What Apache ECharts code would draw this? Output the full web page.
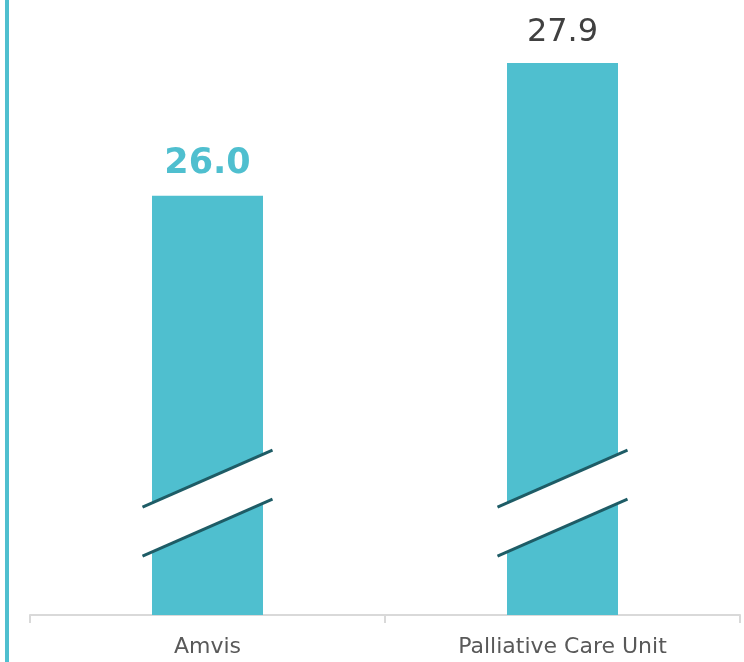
<!DOCTYPE html>
<html>
<head>
<meta charset="utf-8">
<script src="https://cdn.jsdelivr.net/npm/echarts@6/dist/echarts.min.js"></script>
<style>
  html, body { margin: 0; padding: 0; background: #fff; }
  #main { width: 744px; height: 662px; }
</style>
</head>
<body>
<div id="main"></div>
<script>
var categories = ['Amvis', 'Palliative Care Unit'];
var values = [26.0, 27.9];
// where the axis break mark sits on each bar
var breakAt = [21.6, 21.6];

var teal = '#4FBFCF';
var font = 'DejaVu Sans, Verdana, sans-serif';

var chart = echarts.init(document.getElementById('main'));

var option = {
  animation: false,
  grid: { left: 30, right: 4, top: 0, bottom: 47 },
  graphic: [{
    type: 'rect',
    left: 5,
    top: 0,
    shape: { width: 4, height: 662 },
    style: { fill: teal }
  }],
  xAxis: {
    type: 'category',
    data: categories,
    axisLine: { lineStyle: { color: '#d9d9d9', width: 2 } },
    axisTick: { show: true, length: 8, lineStyle: { color: '#d9d9d9', width: 2 } },
    axisLabel: { color: '#595959', fontSize: 22, fontFamily: font, margin: 21 }
  },
  yAxis: {
    type: 'value',
    min: 20,
    max: 28.8,
    show: false
  },
  series: [{
    type: 'bar',
    barWidth: 111,
    itemStyle: { color: teal },
    label: {
      show: true,
      position: 'top',
      distance: 14,
      fontFamily: font,
      formatter: function (p) { return p.value.toFixed(1); }
    },
    data: values.map(function (v, i) {
      return i === 0
        ? { value: v, label: { color: teal, fontSize: 35, fontWeight: 'bold' } }
        : { value: v, label: { color: '#404040', fontSize: 32 } };
    })
  }, {
    type: 'custom',
    silent: true,
    z: 5,
    data: breakAt.map(function (b, i) { return [i, b]; }),
    renderItem: function (params, api) {
      var c = api.coord([api.value(0), api.value(1)]);
      var hw = 65, rise = 28.5, gap = 24.5;
      var x0 = c[0] - hw, x1 = c[0] + hw;
      return {
        type: 'group',
        children: [{
          type: 'polygon',
          shape: { points: [
            [x0, c[1] - gap + rise], [x1, c[1] - gap - rise],
            [x1, c[1] + gap - rise], [x0, c[1] + gap + rise]
          ] },
          style: { fill: '#fff' }
        }, {
          type: 'line',
          shape: { x1: x0, y1: c[1] - gap + rise, x2: x1, y2: c[1] - gap - rise },
          style: { stroke: '#1E5C66', lineWidth: 3 }
        }, {
          type: 'line',
          shape: { x1: x0, y1: c[1] + gap + rise, x2: x1, y2: c[1] + gap - rise },
          style: { stroke: '#1E5C66', lineWidth: 3 }
        }]
      };
    }
  }]
};

chart.setOption(option);
</script>
</body>
</html>
